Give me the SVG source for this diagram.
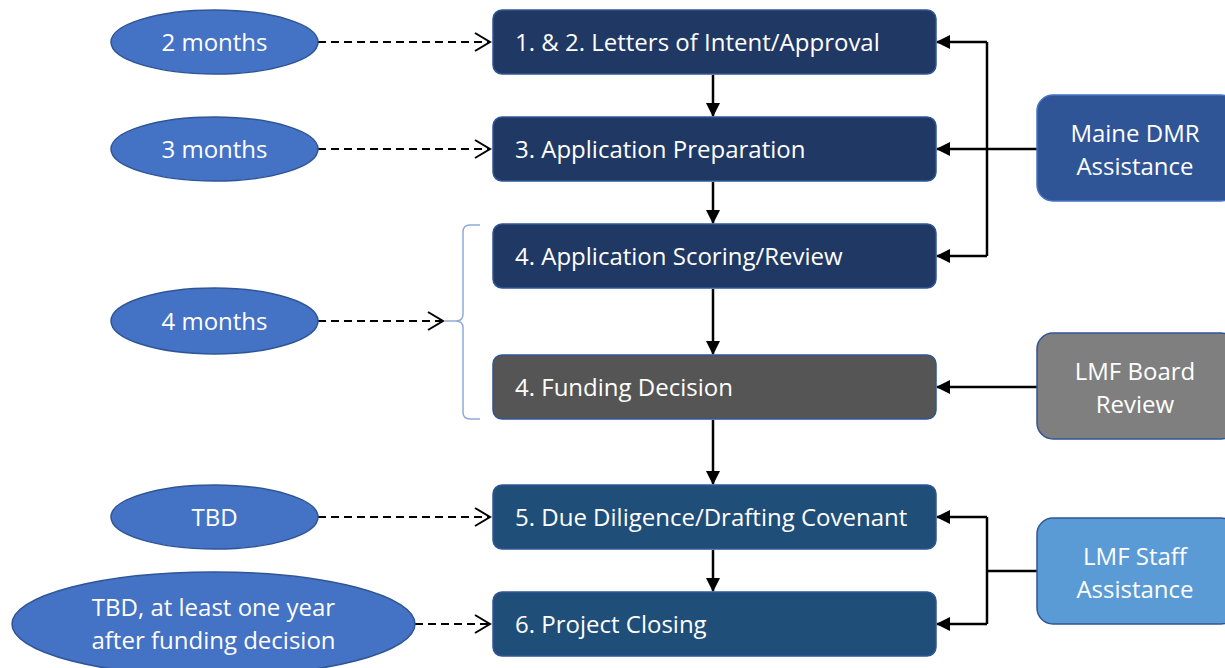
<svg xmlns="http://www.w3.org/2000/svg" width="1225" height="668" viewBox="0 0 1225 668">
<defs>
<marker id="solid" markerWidth="14" markerHeight="14" refX="13" refY="7" orient="auto" markerUnits="userSpaceOnUse">
<path d="M0,0 L14,7 L0,14 Z" fill="#000"/>
</marker>
<marker id="open" markerWidth="18" markerHeight="20" refX="16" refY="10" orient="auto" markerUnits="userSpaceOnUse">
<path d="M1,1 L16,10 L1,19" fill="none" stroke="#000" stroke-width="2"/>
</marker>
</defs>
<style>
text{font-family:"Open Sans","Liberation Sans",sans-serif;fill:#fff;font-size:24px}
.step{stroke:#2F5597;stroke-width:1.5}
.dark{fill:#203864}
.grey{fill:#555555}
.teal{fill:#1F4E79}
.ell{fill:#4472C4;stroke:#2F5597;stroke-width:1.5}
.c{text-anchor:middle}
.dash{stroke:#000;stroke-width:2;stroke-dasharray:8 5;fill:none}
.sol{stroke:#000;stroke-width:2.5;fill:none}
</style>
<g id="connectors">
<line class="sol" x1="713" y1="75" x2="713" y2="116" marker-end="url(#solid)"/>
<line class="sol" x1="713" y1="182" x2="713" y2="223" marker-end="url(#solid)"/>
<line class="sol" x1="713" y1="289" x2="713" y2="354" marker-end="url(#solid)"/>
<line class="sol" x1="713" y1="420" x2="713" y2="484" marker-end="url(#solid)"/>
<line class="sol" x1="713" y1="550" x2="713" y2="591" marker-end="url(#solid)"/>
<line class="dash" x1="318" y1="42" x2="490" y2="42" marker-end="url(#open)"/>
<line class="dash" x1="318" y1="149" x2="490" y2="149" marker-end="url(#open)"/>
<line class="dash" x1="318" y1="321" x2="443" y2="321" marker-end="url(#open)"/>
<line class="dash" x1="318" y1="517" x2="490" y2="517" marker-end="url(#open)"/>
<line class="dash" x1="415" y1="624" x2="490" y2="624" marker-end="url(#open)"/>
<path d="M480,225 L470,225 Q463,225 463,232 L463,314 Q463,321 456,321 L445,321 M456,321 Q463,321 463,328 L463,412 Q463,419 470,419 L480,419" fill="none" stroke="#8FAADC" stroke-width="1.5"/>
<path class="sol" d="M987,42 L987,256"/>
<line class="sol" x1="987" y1="42" x2="937" y2="42" marker-end="url(#solid)"/>
<line class="sol" x1="1037" y1="149" x2="937" y2="149" marker-end="url(#solid)"/>
<line class="sol" x1="987" y1="256" x2="937" y2="256" marker-end="url(#solid)"/>
<line class="sol" x1="1037" y1="387" x2="937" y2="387" marker-end="url(#solid)"/>
<path class="sol" d="M987,517 L987,624"/>
<line class="sol" x1="987" y1="517" x2="937" y2="517" marker-end="url(#solid)"/>
<line class="sol" x1="1037" y1="571" x2="987" y2="571"/>
<line class="sol" x1="987" y1="624" x2="937" y2="624" marker-end="url(#solid)"/>
</g>
<g id="step1"><rect class="step dark" x="493" y="10" width="443" height="64" rx="9"/><text x="515" y="51">1. &amp; 2. Letters of Intent/Approval</text></g>
<g id="step3"><rect class="step dark" x="493" y="117" width="443" height="64" rx="9"/><text x="515" y="158">3. Application Preparation</text></g>
<g id="step4a"><rect class="step dark" x="493" y="224" width="443" height="64" rx="9"/><text x="515" y="265">4. Application Scoring/Review</text></g>
<g id="step4b"><rect class="step grey" x="493" y="355" width="443" height="64" rx="9"/><text x="515" y="396">4. Funding Decision</text></g>
<g id="step5"><rect class="step teal" x="493" y="485" width="443" height="64" rx="9"/><text x="515" y="526">5. Due Diligence/Drafting Covenant</text></g>
<g id="step6"><rect class="step teal" x="493" y="592" width="443" height="64" rx="9"/><text x="515" y="633">6. Project Closing</text></g>
<g id="e2"><ellipse class="ell" cx="214.5" cy="42" rx="103.5" ry="32"/><text class="c" x="214.5" y="51">2 months</text></g>
<g id="e3"><ellipse class="ell" cx="214.5" cy="149" rx="103.5" ry="32"/><text class="c" x="214.5" y="158">3 months</text></g>
<g id="e4"><ellipse class="ell" cx="214.5" cy="321" rx="103.5" ry="33"/><text class="c" x="214.5" y="330">4 months</text></g>
<g id="etbd"><ellipse class="ell" cx="214.5" cy="517" rx="103.5" ry="32"/><text class="c" x="214.5" y="526">TBD</text></g>
<g id="etbd2"><ellipse class="ell" cx="213.5" cy="624" rx="201.5" ry="52"/><text class="c" x="213.5" y="616">TBD, at least one year</text><text class="c" x="213.5" y="649">after funding decision</text></g>
<g id="dmr"><rect x="1037" y="95" width="200" height="106" rx="16" fill="#2F5597" stroke="#4472C4" stroke-width="1.5"/><text class="c" x="1135" y="142">Maine DMR</text><text class="c" x="1135" y="175">Assistance</text></g>
<g id="board"><rect x="1037" y="333" width="200" height="106" rx="16" fill="#7F7F7F" stroke="#2F5597" stroke-width="1.5"/><text class="c" x="1135" y="380">LMF Board</text><text class="c" x="1135" y="413">Review</text></g>
<g id="staff"><rect x="1037" y="518" width="200" height="106" rx="16" fill="#5B9BD5" stroke="#2F5597" stroke-width="1.5"/><text class="c" x="1135" y="565">LMF Staff</text><text class="c" x="1135" y="598">Assistance</text></g>
</svg>
